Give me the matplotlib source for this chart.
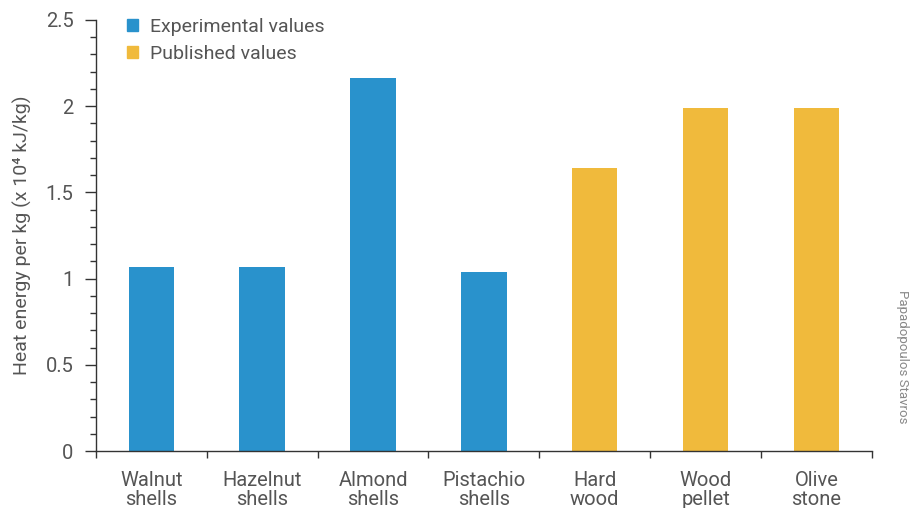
import numpy as np
import matplotlib.pyplot as plt
from matplotlib.patches import Patch

plt.rcParams['font.family'] = ['Roboto', 'DejaVu Sans']

categories = ["Walnut\nshells", "Hazelnut\nshells", "Almond\nshells", "Pistachio\nshells",
              "Hard\nwood", "Wood\npellet", "Olive\nstone"]
values = [1.07, 1.07, 2.16, 1.04, 1.64, 1.99, 1.99]
groups = ["exp", "exp", "exp", "exp", "pub", "pub", "pub"]

blue = "#2992CC"
yellow = "#F0BA3C"
text_col = "#555555"
colors = [blue if g == "exp" else yellow for g in groups]

fig = plt.figure(figsize=(9.13, 5.08), dpi=100)
ax = fig.add_axes([0.105, 0.112, 0.85, 0.849])

x = np.arange(len(categories))
ax.bar(x, values, width=0.41, color=colors)

ax.set_xlim(-0.5, len(categories) - 0.5)
ax.set_ylim(0, 2.5)

ax.spines["top"].set_visible(False)
ax.spines["right"].set_visible(False)
for s in ["left", "bottom"]:
    ax.spines[s].set_color("#333333")
    ax.spines[s].set_linewidth(1.0)

ax.set_yticks(np.arange(0, 2.51, 0.5))
ax.set_yticklabels(["0", "0.5", "1", "1.5", "2", "2.5"])
ax.set_yticks(np.arange(0, 2.51, 0.1), minor=True)
ax.tick_params(axis="y", which="major", length=8, width=1, color="#333333",
               labelsize=14.5, labelcolor=text_col, pad=8)
ax.tick_params(axis="y", which="minor", length=4, width=1, color="#333333")

ax.set_xticks(x)
ax.set_xticklabels(categories, linespacing=1.05)
ax.set_xticks(np.arange(-0.5, len(categories), 1.0), minor=True)
ax.tick_params(axis="x", which="major", length=0, labelsize=14.5, labelcolor=text_col, pad=14)
ax.tick_params(axis="x", which="minor", length=5, width=1, color="#333333")

ax.set_ylabel("Heat energy per kg (x 10\u2074 kJ/kg)", fontsize=14, color=text_col, labelpad=10)

handles = [Patch(color=blue, label="Experimental values"),
           Patch(color=yellow, label="Published values")]
ax.legend(handles=handles, loc="upper left", bbox_to_anchor=(0.018, 1.045), frameon=False,
          fontsize=14, labelcolor=text_col, handlelength=0.55, handleheight=0.55,
          handletextpad=0.6, labelspacing=0.45)

fig.text(0.989, 0.429, "Papadopoulos Stavros", rotation=-90, fontsize=9.5, color="#888888",
         ha="center", va="top")

fig.savefig("out.png", dpi=100)
